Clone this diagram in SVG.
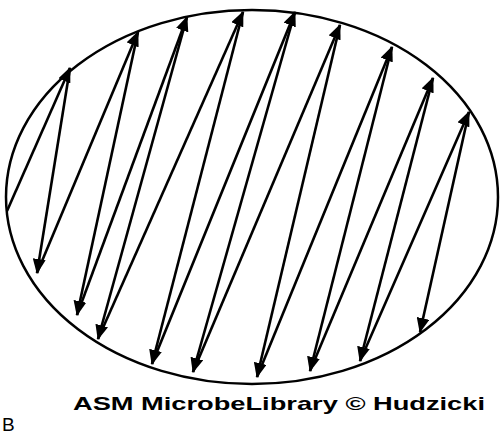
<svg xmlns="http://www.w3.org/2000/svg" width="500" height="435" viewBox="0 0 500 435">
<style>
.conn line{stroke:#000;stroke-width:2.6;fill:none;marker-end:url(#ah)}
.lbl{font-family:"Liberation Sans",Arial,sans-serif;fill:#000}
</style>
<defs>
<marker id="ah" markerUnits="userSpaceOnUse" markerWidth="15" markerHeight="13" viewBox="0 0 15 13" refX="14" refY="6.5" orient="auto">
<path d="M0,0 L15,6.5 L0,13 z" fill="#000"/>
</marker>
</defs>
<rect width="500" height="435" fill="#fff"/>
<g id="field">
<ellipse cx="252" cy="197" rx="246" ry="187" fill="none" stroke="#000" stroke-width="2.5"/>
</g>
<g id="connectors" class="conn">
<line x1="7" y1="211" x2="70" y2="68"/>
<line x1="70" y1="68" x2="37" y2="273"/>
<line x1="37" y1="273" x2="138" y2="32"/>
<line x1="138" y1="32" x2="77" y2="315"/>
<line x1="77" y1="315" x2="187" y2="17"/>
<line x1="187" y1="17" x2="98" y2="339"/>
<line x1="98" y1="339" x2="243" y2="12"/>
<line x1="243" y1="12" x2="152" y2="364"/>
<line x1="152" y1="364" x2="295" y2="12"/>
<line x1="295" y1="12" x2="193" y2="372"/>
<line x1="193" y1="372" x2="340" y2="25"/>
<line x1="340" y1="25" x2="257" y2="377"/>
<line x1="257" y1="377" x2="392" y2="47"/>
<line x1="392" y1="47" x2="310" y2="371"/>
<line x1="310" y1="371" x2="433" y2="78"/>
<line x1="433" y1="78" x2="360" y2="361"/>
<line x1="360" y1="361" x2="469" y2="112"/>
<line x1="469" y1="112" x2="420" y2="332"/>
</g>
<g id="credit">
<text class="lbl" x="73" y="410" font-size="19" font-weight="bold" textLength="412" lengthAdjust="spacingAndGlyphs">ASM MicrobeLibrary © Hudzicki</text>
</g>
<g id="panel-label">
<text class="lbl" x="2" y="431" font-size="19">B</text>
</g>
</svg>
